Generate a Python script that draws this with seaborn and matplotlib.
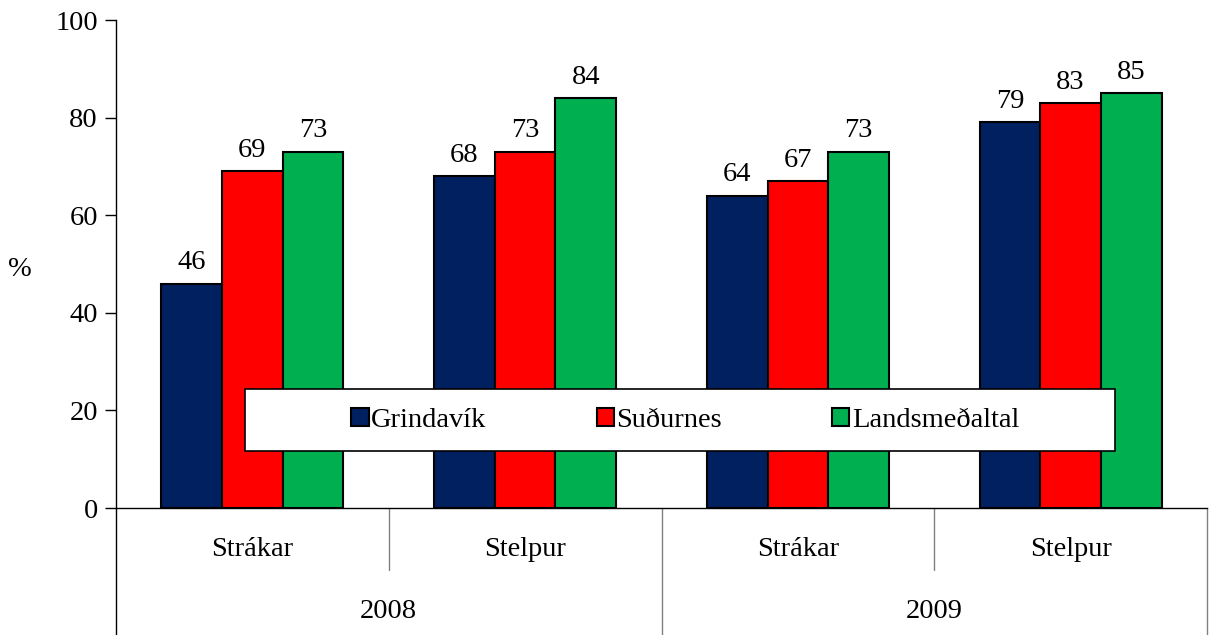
import pandas as pd
import seaborn as sns
import matplotlib.pyplot as plt
from matplotlib.patches import Rectangle

years = ["2008", "2008", "2009", "2009"]
groups = ["Strákar", "Stelpur", "Strákar", "Stelpur"]
regions = ["Grindavík", "Suðurnes", "Landsmeðaltal"]
grindavik = [46, 68, 64, 79]
sudurnes = [69, 73, 67, 83]
landsmedaltal = [73, 84, 73, 85]
colors = ["#002060", "#FF0000", "#00B050"]

keys = [f"{y} {g}" for y, g in zip(years, groups)]
rows = []
for region, vals in zip(regions, [grindavik, sudurnes, landsmedaltal]):
    for k, v in zip(keys, vals):
        rows.append({"cat": k, "region": region, "value": v})
df = pd.DataFrame(rows)

FS = 20.5

sns.set_style("white")
plt.rcParams["font.family"] = ["Liberation Serif", "DejaVu Serif"]
plt.rcParams["font.size"] = FS
plt.rcParams["text.color"] = "black"
plt.rcParams["ytick.color"] = "black"
plt.rcParams["ytick.labelcolor"] = "black"

fig = plt.figure(figsize=(12.1, 6.35), dpi=100)
ax = fig.add_axes([0.0959, 0.2, 0.9016, 0.7685])

sns.barplot(data=df, x="cat", y="value", hue="region", order=keys,
            hue_order=regions, palette=colors, saturation=1, width=0.667,
            edgecolor="black", linewidth=1.5, ax=ax, legend=False)

for cont in ax.containers:
    ax.bar_label(cont, padding=6, fontsize=FS, color="black")

ax.set_xlim(-0.5, 3.5)
ax.set_ylim(0, 100)
ax.set_yticks(range(0, 101, 20))
ax.tick_params(axis="y", direction="out", length=8, width=1, left=True,
               labelsize=FS, pad=5, colors="black")
ax.set_xticks([])
ax.set_xlabel("")
ax.set_ylabel("")
for s in ["top", "right"]:
    ax.spines[s].set_visible(False)
for s in ["left", "bottom"]:
    ax.spines[s].set_color("black")
    ax.spines[s].set_linewidth(1)

# % label
ax.text(-0.088, 0.488, "%", transform=ax.transAxes, ha="center", va="center",
        fontsize=FS)

# multi-level category axis
trans = ax.get_xaxis_transform()
for i, g in enumerate(groups):
    ax.text(i, -0.086, g, transform=trans, ha="center", va="center", fontsize=FS)
for xpos, y in [(0.5, "2008"), (2.5, "2009")]:
    ax.text(xpos, -0.213, y, transform=trans, ha="center", va="center",
            fontsize=FS)
for xpos in [0.5, 2.5]:
    ax.plot([xpos, xpos], [0, -0.127], transform=trans, color="#808080",
            lw=1, clip_on=False)
for xpos in [-0.5, 1.5, 3.5]:
    ax.plot([xpos, xpos], [0, -0.27], transform=trans,
            color="black" if xpos == -0.5 else "#808080",
            lw=1, clip_on=False)

# legend box
ax.add_patch(Rectangle((0.118, 11.7), 0.7977, 12.6,
                       transform=ax.get_yaxis_transform(), facecolor="white",
                       edgecolor="black", lw=1.2, zorder=5))
handles = [Rectangle((0, 0), 1, 1, facecolor=c, edgecolor="black", lw=1.5)
           for c in colors]
leg = ax.legend(handles, regions, loc="center", ncol=3, frameon=False,
                bbox_to_anchor=(0.118 + 0.7977 / 2 + 0.005, 0.18),
                bbox_transform=ax.transAxes, handlelength=0.6,
                handleheight=0.6, handletextpad=0.1, columnspacing=3.86,
                fontsize=FS)
leg.set_zorder(6)

fig.savefig("out.png", dpi=100)
